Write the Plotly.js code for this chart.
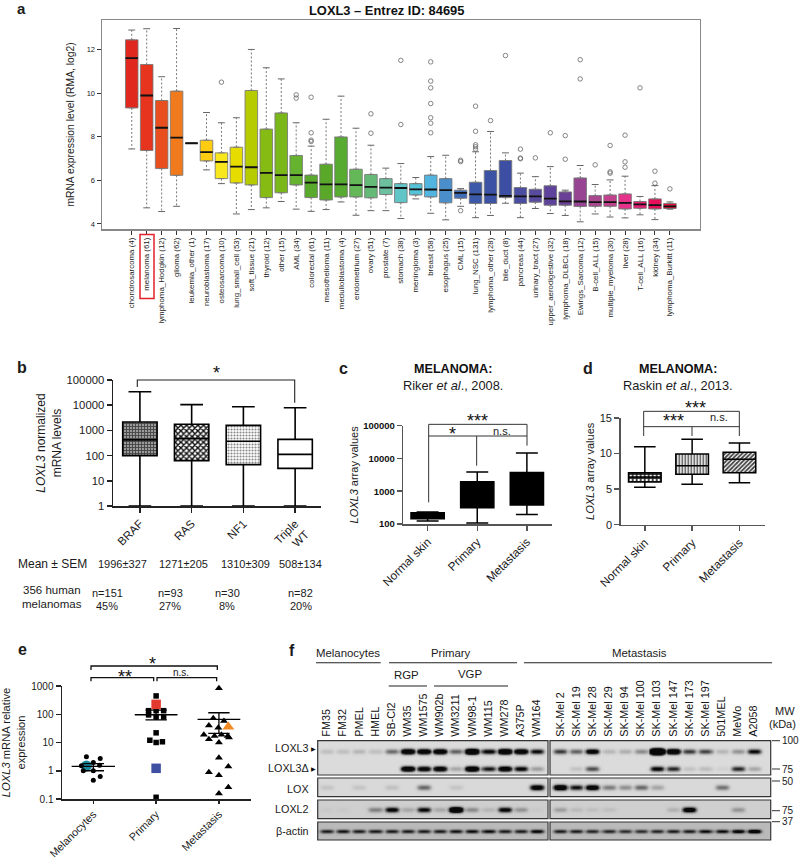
<!DOCTYPE html>
<html><head><meta charset="utf-8">
<script src="https://cdn.plot.ly/plotly-3.0.1.min.js"></script>
<style>html,body{margin:0;padding:0;background:#fff}#c{width:800px;height:860px}</style>
</head><body><div id="c"></div>
<script>
// ---------- Panel a ----------
const tissues=["chondrosarcoma (4)","melanoma (61)","lymphoma_Hodgkin (12)","glioma (62)","leukemia_other (1)","neuroblastoma (17)","osteosarcoma (10)","lung_small_cell (53)","soft_tissue (21)","thyroid (12)","other (15)","AML (34)","colorectal (61)","mesothelioma (11)","medulloblastoma (4)","endometrium (27)","ovary (51)","prostate (7)","stomach (38)","meningioma (3)","breast (58)","esophagus (25)","CML (15)","lung_NSC (131)","lymphoma_other (28)","bile_duct (8)","pancreas (44)","urinary_tract (27)","upper_aerodigestive (32)","lymphoma_DLBCL (18)","Ewings_Sarcoma (12)","B-cell_ALL (15)","multiple_myeloma (30)","liver (28)","T-cell_ALL (16)","kidney (34)","lymphoma_Burkitt (11)"];
const aLow=[7.44,4.74,4.57,4.81,7.7,6.48,5.85,4.46,4.66,4.74,5.03,4.68,4.58,4.66,5.01,4.4,4.61,4.61,4.25,5.15,4.49,4.19,4.81,4.29,4.39,4.95,4.29,4.71,4.48,4.39,4.1,4.46,4.32,4.28,4.42,4.2,4.68];
const aQ1=[9.32,7.37,6.54,6.23,7.7,6.89,6.08,5.88,5.79,5.21,5.43,5.79,5.21,5.1,5.24,5.24,5.2,5.35,4.98,5.33,5.24,4.97,5.18,4.94,4.94,5.21,4.94,5.0,4.86,4.86,4.8,4.81,4.81,4.69,4.72,4.69,4.71];
const aMed=[11.6,9.89,8.41,7.96,7.7,7.29,6.85,6.63,6.6,6.34,6.24,6.24,5.9,5.82,5.82,5.78,5.7,5.67,5.65,5.59,5.58,5.55,5.43,5.36,5.35,5.29,5.27,5.27,5.16,5.04,5.03,5.0,5.0,4.97,4.9,4.86,4.81];
const aQ3=[12.44,11.31,9.66,10.09,7.7,7.84,7.26,7.52,10.12,8.35,9.09,7.14,6.24,6.74,7.99,6.51,6.27,6.08,5.85,5.85,6.24,6.08,5.55,5.91,6.45,6.91,5.67,5.59,5.75,5.47,6.11,5.3,5.33,5.38,5.03,5.15,4.94];
const aHigh=[12.89,12.95,10.75,12.96,7.7,9.11,8.64,8.87,12,11.16,10.65,8.64,7.57,8.8,9.86,8.39,7.61,6.56,6.77,6.13,7.09,7.15,5.62,7.31,8.24,7.26,6.33,6.17,6.63,5.55,6.68,5.81,6.02,6.19,5.26,5.76,5.01];
const aColors=["#e1281f","#e6341f","#e94e1f","#f07a1c","#f7a700","#ffcc11","#f8e71c","#e6dc00","#b7cc00","#86bb14","#7ab81a","#65b32e","#58a92c","#5aa82a","#57ab30","#65b858","#66ba78","#6cc0a0","#5fc5c6","#56c2d8","#52b5df","#4a8fcb","#3d6db8","#3c58a8","#3c52a4","#3c4fa3","#4a4da0","#574a9f","#5f429b","#6a3f96","#974593","#a9468f","#c2408e","#e5338b","#eb1c74","#e6105a","#e0113a"];
const outlierTissue=[6,11,11,12,12,12,12,16,16,18,18,20,20,20,20,20,20,20,22,22,22,23,23,23,23,23,24,25,26,26,26,27,28,29,29,30,30,31,32,32,32,33,33,33,34,35,35,36];
const outlierValue=[10.5,9.92,9.77,9.81,8.18,7.84,7.78,9.05,8.16,11.5,8.56,11.43,10.55,10.24,9.52,8.87,8.62,8.18,6.92,6.86,4.61,9.4,8.25,7.63,7.54,7.43,8.74,11.72,7.43,7.02,6.99,7.03,8.18,8.05,6.97,11.53,10.65,6.71,7.6,6.39,6.33,8.07,6.85,6.6,10.24,6.42,5.87,5.61];
// ---------- Panel b ----------
const bCats=["BRAF","RAS","NF1","Triple<br>WT"];
const bLow=[1,1,1,1];
const bQ1=[100,63,44,31];
const bMed=[420,470,370,112];
const bQ3=[2150,1750,1580,440];
const bHigh=[34400,10500,8700,7950];
const bMean=["1996±327","1271±205","1310±309","508±134"];
const bN=["n=151","n=93","n=30","n=82"];
const bPct=["45%","27%","8%","20%"];
// ---------- Panel c ----------
const cCats=["Normal skin","Primary","Metastasis"];
const cLow=[124,107,195];
const cQ1=[145,316,380];
const cMed=[185,800,1200];
const cQ3=[221,1960,3700];
const cHigh=[232,3850,14700];
// ---------- Panel d ----------
const dLow=[5.25,5.67,5.9];
const dQ1=[6.0,7.08,7.3];
const dMed=[6.7,8.3,9.2];
const dQ3=[7.3,9.94,10.2];
const dHigh=[10.97,12,11.5];
// ---------- Panel e ----------
const eCats=["Melanocytes","Primary","Metastasis"];
const melX=[-0.11,0.11,0,-0.19,0.1,0,-0.16,0.11,0];
const melY=[3.16,2.7,1.95,1.5,1.55,1.0,1.0,0.62,0.46];
const melBigX=[-0.11], melBigY=[1.48];
const priX=[0,-0.12,0,0.12,-0.12,0,0.12,0,-0.1,0,0.1,0];
const priY=[445,134,134,134,95,80,80,22,12,10,10.6,0.115];
const priRedX=[0], priRedY=[224];
const priBlueX=[0], priBlueY=[1.22];
const metX=[0,-0.09,0.08,-0.16,-0.01,-0.24,-0.07,0.04,0.14,-0.16,0.16,0,0,0.15,-0.16,0,0.15,0];
const metY=[830,72,58,40,33,19,17,19,17,13,15,10,2.9,1.4,0.88,0.7,0.26,0.155];
const metOrangeX=[0.15], metOrangeY=[36];
const eMean=[1.43,96,66];
const eSemLow=[1.0,63,21];
const eSemHigh=[1.8,141,113];
// ---------- Panel f ----------
const lanes=["FM35","FM32","PMEL","HMEL","SB-Cl2","WM35","WM1575","WM902b","WM3211","WM98-1","WM115","WM278","A375P","WM164","SK-Mel 2","SK-Mel 19","SK-Mel 28","SK-Mel 29","SK-Mel 94","SK-Mel 100","SK-Mel 103","SK-Mel 147","SK-Mel 173","SK-Mel 197","501MEL","MeWo","A2058"];
const bandLOXL3=[.14,.14,.18,.14,.55,2.2,2,2,.6,3,1.2,2.6,2,1.1,.8,.6,1.5,.18,.22,.4,7,2.4,.8,.75,.18,.35,1.1];
const bandLOXL3d=[0,0,0,0,0,2,1.5,1.7,.25,2.2,1,1.8,1.2,.3,0,.12,.7,0,0,0,1.2,.9,.12,.15,.05,.9,.25];
const bandLOX=[.1,0,.1,0,.12,0,.55,0,.1,0,0,0,0,1.5,1.8,1,1.5,.45,.35,.55,.25,0,0,0,.5,0,0];
const bandLOXL2=[.03,.03,0,.4,1.2,.2,1.1,.2,2.5,.35,.12,1.2,.3,.03,.25,.1,.08,.08,0,0,0,.15,1.5,0,0,.3,0];
const bandActin=[.9,.95,.9,.9,.9,.9,.9,.9,.95,1,1,.9,.9,1.1,.9,.9,.85,.85,.8,.8,.85,.9,.9,1,1,1.2,1.5];

const W=800,H=860;
const FONT='"Liberation Sans", Arial, sans-serif';
const fx=p=>p/W, fy=p=>1-p/H;
const traces=[],shapes=[],ann=[];
const layout={width:W,height:H,margin:{l:0,r:0,t:0,b:0},paper_bgcolor:'#fff',plot_bgcolor:'rgba(0,0,0,0)',
  showlegend:false,hovermode:false,barmode:'overlay',boxmode:'overlay',font:{family:FONT,color:'#1a1a1a',size:11},shapes,annotations:ann};
function axes(n,l,r,t,b,xo,yo){
  layout['xaxis'+n]=Object.assign({domain:[fx(l),fx(r)],anchor:'y'+n,showgrid:false,zeroline:false,showline:true,linecolor:'#222',linewidth:1.5,ticks:'outside',tickcolor:'#222',tickwidth:1.5,ticklen:5,tickmode:'array',automargin:false},xo);
  layout['yaxis'+n]=Object.assign({domain:[fy(b),fy(t)],anchor:'x'+n,showgrid:false,zeroline:false,showline:true,linecolor:'#222',linewidth:1.5,ticks:'outside',tickcolor:'#222',tickwidth:1.5,ticklen:5,tickmode:'array',automargin:false},yo);
}
function txt(x,y,text,o={}){
  ann.push({xref:'paper',yref:'paper',x:fx(x),y:fy(y),text,showarrow:false,xanchor:o.anchor||'center',yanchor:'middle',textangle:o.angle||0,
    font:{size:o.size||11,family:o.family||FONT,color:o.color||'#1a1a1a'},borderpad:0,borderwidth:0});
}
const star=(x,y,t)=>txt(x,y+3.6,t,{size:18,color:'#111'});
function line(pts,o={}){
  const d=pts.map((p,i)=>(i?'L':'M')+fx(p[0])+','+fy(p[1])).join(' ');
  shapes.push({type:'path',xref:'paper',yref:'paper',path:d,line:{color:o.color||'#222',width:o.width||1},layer:'above'});
}
const idx=a=>a.map((_,i)=>i);

// ---- panel a
axes('',102,699.5,20,229,
 {range:[-1.99,37.98],tickvals:idx(tissues),ticktext:tissues,tickangle:-90,tickfont:{size:7.9,color:'#222'},linecolor:'#888',mirror:true,ticklen:4,tickwidth:1,tickcolor:'#333'},
 {range:[3.77,13.35],tickvals:[4,6,8,10,12],ticktext:['4','6','8','10','12'],tickangle:0,tickfont:{size:7.5,color:'#222'},linecolor:'#888',mirror:true,ticklen:4,tickwidth:1,tickcolor:'#333',
  title:{text:'mRNA expression level (RMA, log2)',font:{size:10.3,color:'#222'},standoff:10}});
tissues.forEach((t,i)=>{
  traces.push({type:'box',name:t,x:[i],q1:[aQ1[i]],median:[aMed[i]],q3:[aQ3[i]],lowerfence:[aQ1[i]],upperfence:[aQ3[i]],width:0.84,
    fillcolor:aColors[i],line:{color:'rgba(120,120,120,0.85)',width:1},xaxis:'x',yaxis:'y',boxpoints:false});
});
const wx=[],wy=[],cx=[],cy=[],mx=[],my=[];
tissues.forEach((t,i)=>{
  if(aHigh[i]>aQ3[i]){wx.push(i,i,null);wy.push(aQ3[i],aHigh[i],null);cx.push(i-.23,i+.23,null);cy.push(aHigh[i],aHigh[i],null);}
  if(aLow[i]<aQ1[i]){wx.push(i,i,null);wy.push(aQ1[i],aLow[i],null);cx.push(i-.23,i+.23,null);cy.push(aLow[i],aLow[i],null);}
  mx.push(i-.42,i+.42,null);my.push(aMed[i],aMed[i],null);
});
traces.push({type:'scatter',mode:'lines',x:wx,y:wy,line:{color:'#777',width:1,dash:'2px,2px'},xaxis:'x',yaxis:'y'});
traces.push({type:'scatter',mode:'lines',x:cx,y:cy,line:{color:'#666',width:1},xaxis:'x',yaxis:'y'});
traces.push({type:'scatter',mode:'lines',x:mx,y:my,line:{color:'#111',width:1.8},xaxis:'x',yaxis:'y'});
traces.push({type:'scatter',mode:'markers',x:outlierTissue,y:outlierValue,marker:{symbol:'circle-open',size:4.5,color:'#666',line:{width:.8,color:'#666'}},xaxis:'x',yaxis:'y'});
txt(21,9,'<b>a</b>',{size:15});
txt(386,10,'<b>LOXL3 – Entrez ID: 84695</b>',{size:12.9,color:'#111'});
shapes.push({type:'rect',xref:'paper',yref:'paper',x0:fx(140),x1:fx(154),y0:fy(234.5),y1:fy(298.5),line:{color:'#e0232a',width:1.5},layer:'above'});

// helper for box panels
function boxPanel(n,low,q1,med,q3,high,width,fills,lw){
  q1.forEach((_,i)=>{
    if(fills[i].pattern){
      traces.push({type:'bar',x:[i],y:[q3[i]-q1[i]],base:[q1[i]],width:width,marker:{color:fills[i].bg||'#fff',pattern:fills[i].pattern,line:{width:0}},xaxis:'x'+n,yaxis:'y'+n});
    }
    traces.push({type:'box',x:[i],q1:[q1[i]],median:[med[i]],q3:[q3[i]],lowerfence:[low[i]],upperfence:[high[i]],width:width,whiskerwidth:.66,
      fillcolor:fills[i].solid||'rgba(0,0,0,0)',line:{color:'#000',width:lw},xaxis:'x'+n,yaxis:'y'+n,boxpoints:false});
  });
}
const logTicks=(a)=>({tickvals:a,ticktext:a.map(String)});

// ---- panel b
axes(2,113,321,380,506,
 {range:[-.52,3.5],tickvals:idx(bCats),ticktext:bCats,tickangle:-45,tickfont:{size:11.5}},
 Object.assign({type:'log',range:[0,5],tickfont:{size:11.3},title:{text:'<i>LOXL3</i> normalized<br>mRNA levels',font:{size:12},standoff:2}},logTicks([1,10,100,1000,10000,100000])));
boxPanel(2,bLow,bQ1,bMed,bQ3,bHigh,.665,[
 {pattern:{shape:'+',bgcolor:'#9a9a9a',fgcolor:'#444',size:3,solidity:.5,fillmode:'replace'},bg:'#888'},
 {pattern:{shape:'x',bgcolor:'#fff',fgcolor:'#111',size:4,solidity:.6,fillmode:'replace'},bg:'#fff'},
 {pattern:{shape:'.',bgcolor:'#fff',fgcolor:'#888',size:3,solidity:.4,fillmode:'replace'},bg:'#fff'},
 {solid:'#fff'}],1.6);
txt(22,367,'<b>b</b>',{size:16});
line([[137.3,387],[137.3,380],[294.7,380],[294.7,402.7]],{width:1.1});
star(216,369,'*');
txt(52.7,564,'Mean ± SEM',{size:12});
[122,183,245,300].forEach((x,i)=>txt(x,564,bMean[i],{size:11}));
txt(52,590,'356 human',{size:11.5});txt(52,604,'melanomas',{size:11.5});
[107,170,227,300.7].forEach((x,i)=>{txt(x,592.7,bN[i],{size:11});txt(x,606,bPct[i],{size:11});});

// ---- panel c
axes(3,403.3,551.7,425.7,524,
 {range:[-.49,2.5],tickvals:idx(cCats),ticktext:cCats,tickangle:-45,tickfont:{size:11.8},linecolor:'#555',tickcolor:'#555'},
 {type:'log',range:[2,5],tickfont:{size:9.5,color:'#111'},linecolor:'#555',tickcolor:'#555',title:{text:'<i>LOXL3</i> array values',font:{size:11},standoff:2},tickvals:[100,1000,10000,100000],ticktext:['<b>100</b>','<b>1000</b>','<b>10000</b>','<b>100000</b>']});
boxPanel(3,cLow,cQ1,cMed,cQ3,cHigh,.67,[{solid:'#000'},{solid:'#000'},{solid:'#000'}],1.5);
txt(343,369,'<b>c</b>',{size:16});
txt(452.7,369,'<b>MELANOMA:</b>',{size:12.6,color:'#111'});
txt(452.7,385,'Riker <i>et al</i>., 2008.',{size:12.8});
const zc=(x,y)=>[x/3+370,y/3+330];
line([zc(176,517),zc(176,283),zc(471,283),zc(471,347)],{width:1,color:'#333'});
line([zc(176,318),zc(471,318)],{width:1,color:'#333'});
line([zc(320,318),zc(320,407)],{width:1,color:'#333'});
star(...zc(323,262),'***');
star(...zc(248,302),'*');
txt(...zc(395,302),'n.s.',{size:11});

// ---- panel d
axes(4,620.7,765,418,524.7,
 {range:[-.51,2.54],tickvals:idx(cCats),ticktext:cCats,tickangle:-45,tickfont:{size:11.8},linecolor:'#555',tickcolor:'#555'},
 {range:[0,15],tickvals:[0,5,10,15],ticktext:['0','5','10','15'],tickfont:{size:11},linecolor:'#555',tickcolor:'#555',title:{text:'<i>LOXL3</i> array values',font:{size:11},standoff:3}});
boxPanel(4,dLow,dQ1,dMed,dQ3,dHigh,.69,[
 {pattern:{shape:'.',bgcolor:'#222',fgcolor:'#fff',size:4,solidity:.35,fillmode:'replace'},bg:'#222'},
 {pattern:{shape:'|',bgcolor:'#fff',fgcolor:'#444',size:3,solidity:.45,fillmode:'replace'},bg:'#fff'},
 {pattern:{shape:'/',bgcolor:'#fff',fgcolor:'#444',size:3,solidity:.6,fillmode:'replace'},bg:'#fff'}],1.5);
txt(588,368,'<b>d</b>',{size:16});
txt(678,369,'<b>MELANOMA:</b>',{size:12.6,color:'#111'});
txt(678,385,'Raskin <i>et al</i>., 2013.',{size:12.8});
line([zc(821,318),zc(821,244),zc(1108,244),zc(1108,318)],{width:1,color:'#333'});
line([zc(821,290),zc(1108,290)],{width:1,color:'#333'});
line([zc(966,290),zc(966,318)],{width:1,color:'#333'});
star(...zc(975,222),'***');
star(...zc(910,263),'***');
txt(...zc(1047,260),'n.s.',{size:11});

// ---- panel e
axes(5,62.3,250.7,686,799,
 {range:[-.494,2.506],tickvals:idx(eCats),ticktext:eCats,tickangle:-45,tickfont:{size:10.8},linewidth:1.8,tickwidth:1.5,ticklen:3},
 Object.assign({type:'log',range:[-1,3],tickfont:{size:10},linewidth:1.8,tickwidth:1.5,title:{text:'<i>LOXL3</i> mRNA relative<br>expression',font:{size:11.2},standoff:12}},{tickvals:[.1,1,10,100,1000],ticktext:['0.1','1','10','100','1000']}));
const mk=(x,y,sym,size,color,off=0)=>traces.push({type:'scatter',mode:'markers',cliponaxis:false,x:x.map(v=>v+off),y,marker:{symbol:sym,size,color,line:{width:0}},xaxis:'x5',yaxis:'y5'});
mk(melBigX,melBigY,'circle',11,'#1b8c9e',0);
mk(melX,melY,'circle',5,'#000',0);
mk(priX,priY,'square',5.5,'#000',1);
mk(priRedX,priRedY,'square',9.5,'#e23a2e',1);
mk(priBlueX,priBlueY,'square',9.5,'#3f4fa2',1);
mk(metX,metY,'triangle-up',7,'#000',2);
mk(metOrangeX,metOrangeY,'triangle-up',10.5,'#f08a24',2);
const ex=[],ey=[];
const ewide=[.345,.34,.34],ecap=[.17,.17,.17];
eMean.forEach((m,i)=>{
  ex.push(i-ewide[i],i+ewide[i],null);ey.push(m,m,null);
  ex.push(i,i,null);ey.push(eSemLow[i],eSemHigh[i],null);
  ex.push(i-ecap[i],i+ecap[i],null);ey.push(eSemLow[i],eSemLow[i],null);
  ex.push(i-ecap[i],i+ecap[i],null);ey.push(eSemHigh[i],eSemHigh[i],null);
});
traces.push({type:'scatter',mode:'lines',x:ex,y:ey,line:{color:'#000',width:1.3},xaxis:'x5',yaxis:'y5'});
txt(22,649,'<b>e</b>',{size:16});
const ze=(x,y)=>[x/3,y/3+620];
line([ze(273,150),ze(273,138),ze(652,138),ze(652,150)],{width:1.3,color:'#111'});
line([ze(273,184),ze(273,173),ze(461,173),ze(461,184)],{width:1.3,color:'#111'});
line([ze(471,184),ze(471,173),ze(650,173),ze(650,184)],{width:1.3,color:'#111'});
star(...ze(458,120),'*');
star(...ze(375,160),'**');
txt(...ze(543,158),'n.s.',{size:10});

// ---- panel f
const laneUnit=16.15,lane0=326.7;
const laneX=lanes.map((_,i)=>i<14?i:i+0.45);
const toLane=p=>(p-lane0)/laneUnit;
const stripsX=[[317.7,548],[550,770.7]];
const stripDefs=[
 {n:6,t:740.7,b:775,bg:.14,bands:[[bandLOXL3,10],[bandLOXL3d,27.3]],hw:2.4},
 {n:7,t:778,b:796.7,bg:.15,bands:[[bandLOX,8.7]],hw:2.6},
 {n:8,t:800,b:818.7,bg:.19,bands:[[bandLOXL2,9]],hw:2.5},
 {n:9,t:822,b:840,bg:.27,bands:[[bandActin,8.6]],hw:1.9}
];
layout.xaxis6={domain:[fx(317.7),fx(770.7)],range:[toLane(317.7),toLane(770.7)],anchor:'y6',side:'top',showgrid:false,zeroline:false,showline:false,ticks:'',
  tickmode:'array',tickvals:laneX,ticktext:lanes,tickangle:-90,tickfont:{size:10.8,color:'#111'},automargin:false,ticklabelstandoff:3};
stripDefs.forEach(s=>{
  layout['yaxis'+s.n]={domain:[fy(s.b),fy(s.t)],range:[s.b-s.t,0],anchor:'x6',visible:false,showgrid:false,zeroline:false};
  const h=s.b-s.t,ys=[];for(let y=0.5;y<h;y+=1)ys.push(y);
  stripsX.forEach(([pl,pr])=>{
    const xs=[];for(let x=toLane(pl)+.06;x<toLane(pr);x+=.125)xs.push(x);
    const z=ys.map(y=>xs.map(x=>{
      let v=0;
      s.bands.forEach(([arr,cy])=>{
        arr.forEach((I,li)=>{
          const dx=(x-laneX[li])/.42;
          if(Math.abs(dx)>1.6)return;
          const dy=(y-cy)/s.hw;
          v=Math.max(v,Math.min(1,I*Math.exp(-dx*dx*dx*dx)*Math.exp(-dy*dy)));
        });
      });
      return s.bg+(0.97-s.bg)*v;
    }));
    traces.push({type:'heatmap',x:xs,y:ys,z,zmin:0,zmax:1,zsmooth:'best',showscale:false,colorscale:[[0,'#fff'],[1,'#000']],xaxis:'x6',yaxis:'y'+s.n,hoverinfo:'skip'});
    shapes.push({type:'rect',xref:'paper',yref:'paper',x0:fx(pl),x1:fx(pr),y0:fy(s.t),y1:fy(s.b),line:{color:'#333',width:1.2},layer:'above'});
  });
});
txt(292,650,'<b>f</b>',{size:16});
txt(348,652.7,'Melanocytes',{size:11.4});line([[316,662.7],[380.7,662.7]],{width:1.1});
txt(450.7,652.7,'Primary',{size:11.4});line([[389,662.7],[517,662.7]],{width:1.1});
txt(639,652.7,'Metastasis',{size:11.4});line([[524,662.7],[772,662.7]],{width:1.1});
txt(406.7,675,'RGP',{size:11.4});line([[388.7,686],[427,686]],{width:1.1});
txt(470,674,'VGP',{size:11.4});line([[434,686],[508,686]],{width:1.1});
[['LOXL3',748],['LOXL3Δ',768],['LOX',788.7],['LOXL2',809],['β-actin',830.7]].forEach(([t,y])=>txt(309,y,t,{size:10.8,anchor:'right'}));
[748,768].forEach(y=>txt(313,y,'▶',{size:6,family:'"DejaVu Sans"',color:'#111'}));
txt(785,710.7,'MW',{size:11});txt(782,724,'(kDa)',{size:11});
[['100',740.7],['75',769],['50',781],['75',810.7],['37',821.7]].forEach(([t,y])=>{
  line([[772,y],[780,y]],{width:1,color:'#333'});
  txt(781.5,y,t,{size:10,anchor:'left'});
});
Plotly.newPlot('c',traces,layout,{displayModeBar:false,staticPlot:true});
</script></body></html>
